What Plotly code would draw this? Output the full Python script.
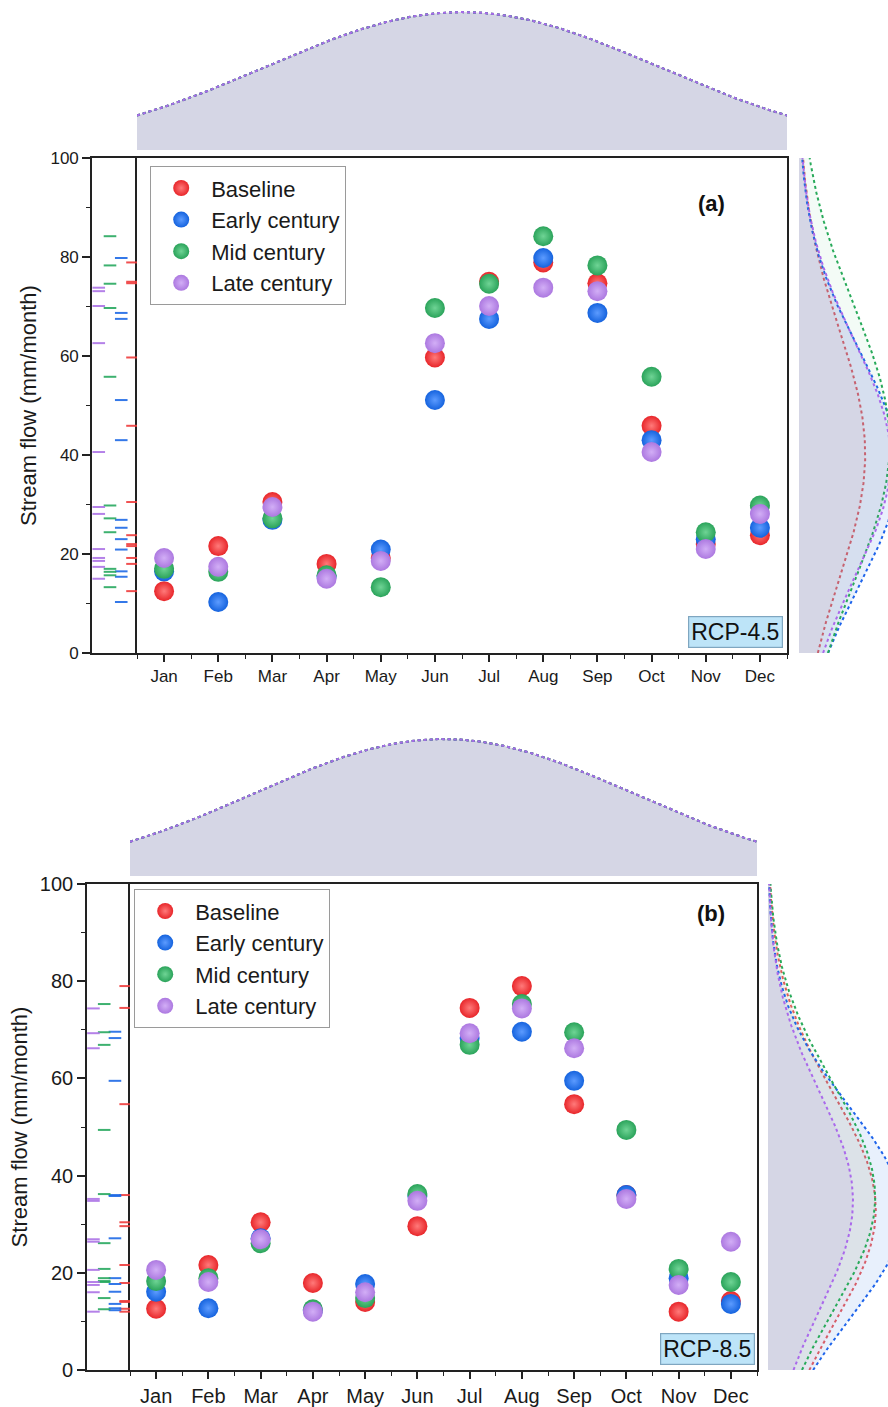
import numpy as np
import plotly.graph_objects as go

# ---------------- data ----------------
months = ["Jan", "Feb", "Mar", "Apr", "May", "Jun", "Jul", "Aug", "Sep", "Oct", "Nov", "Dec"]
month_index = list(range(1, 13))
series_names = ["Baseline", "Early century", "Mid century", "Late century"]

# RCP-4.5 (panel a), stream flow mm/month
rcp45_baseline = [12.5, 21.6, 30.5, 18.0, 19.2, 59.7, 75.0, 78.9, 74.7, 45.9, 22.0, 23.8]
rcp45_early = [16.5, 10.3, 26.9, 15.4, 20.9, 51.1, 67.5, 79.8, 68.7, 43.0, 23.0, 25.3]
rcp45_mid = [17.0, 16.4, 27.2, 15.7, 13.3, 69.7, 74.6, 84.2, 78.3, 55.8, 24.4, 29.8]
rcp45_late = [19.2, 17.4, 29.5, 15.0, 18.6, 62.6, 70.1, 73.8, 73.1, 40.6, 21.0, 28.1]

# RCP-8.5 (panel b)
rcp85_baseline = [12.6, 21.6, 30.4, 17.9, 14.0, 29.6, 74.5, 79.0, 54.7, 36.0, 12.0, 14.2]
rcp85_early = [16.1, 12.7, 27.1, 12.3, 17.7, 35.8, 68.3, 69.6, 59.5, 36.0, 18.9, 13.6]
rcp85_mid = [18.3, 18.9, 26.1, 12.5, 14.8, 36.2, 66.9, 75.3, 69.5, 49.4, 20.8, 18.1]
rcp85_late = [20.6, 18.1, 26.9, 12.0, 16.0, 34.8, 69.3, 74.4, 66.2, 35.2, 17.5, 26.4]

# histogram bin widths used to scale the fitted normal curves on the right margin
rcp45_dist_bin_width = [8.8, 12.4, 13.3, 11.5]
rcp85_dist_bin_width = [13.5, 15.4, 13.2, 10.0]

# column order of the rug strip (left to right)
rug_column_order = ["Late century", "Mid century", "Early century", "Baseline"]

y_tick_values = [0, 20, 40, 60, 80, 100]

# ---------------- styles ----------------
FONT = "Liberation Sans, Arial, Helvetica, sans-serif"
marker_colors = ["#E8262A", "#1563DE", "#2AA35A", "#AC78E0"]
marker_centers = ["#FF7A7A", "#5C9BFF", "#6FD495", "#D2AEF6"]
rug_colors = ["rgba(238,60,60,0.9)", "rgba(30,105,230,0.9)", "rgba(40,168,95,0.9)", "rgba(172,115,230,0.9)"]
line_colors = ["rgb(235,90,90)", "rgb(30,100,235)", "rgb(40,170,90)", "rgb(170,105,235)"]
fill_colors = ["rgba(240,90,90,0.07)", "rgba(50,120,230,0.11)", "rgba(50,180,100,0.06)", "rgba(140,100,200,0.09)"]

W, H = 888, 1407


def fx(x):
    return x / W


def fy(y):
    return 1 - y / H


def akey(n, letter):
    return f"{letter}axis" if n == 1 else f"{letter}axis{n}"


def aref(n, letter):
    return letter if n == 1 else f"{letter}{n}"


panels = [
    dict(series=[rcp45_baseline, rcp45_early, rcp45_mid, rcp45_late], bw=rcp45_dist_bin_width,
         main_x=(137, 787), main_y=(158, 653), rug_x=(92, 137), top_y=(10, 150), right_x=(799, 888),
         legend_xy=(150, 166), legend="legend", tag="(a)", tag_xy=(711, 203), rcp="RCP-4.5",
         rcp_xy=(735, 632), tickfont=17, title_standoff=8, ax0=1),
    dict(series=[rcp85_baseline, rcp85_early, rcp85_mid, rcp85_late], bw=rcp85_dist_bin_width,
         main_x=(130, 757), main_y=(884, 1370), rug_x=(87, 130), top_y=(737, 876), right_x=(768, 888),
         legend_xy=(134, 889), legend="legend2", tag="(b)", tag_xy=(711, 913), rcp="RCP-8.5",
         rcp_xy=(707, 1349), tickfont=20, title_standoff=6, ax0=5),
]

PX_PER_COUNT = 39.8
X_RANGE = [0.5, 12.5]
Y_RANGE = [0, 100]


def normal_pdf(v, mean, sd):
    return np.exp(-0.5 * ((v - mean) / sd) ** 2) / (sd * np.sqrt(2 * np.pi))


fig = go.Figure()
layout = dict(
    template="none",
    width=W, height=H, margin=dict(l=0, r=0, t=0, b=0, pad=0),
    paper_bgcolor="white", plot_bgcolor="rgba(0,0,0,0)",
    font=dict(family=FONT, color="#1a1a1a"),
    annotations=[],
)

for p in panels:
    a_main, a_rug, a_top, a_right = p["ax0"], p["ax0"] + 1, p["ax0"] + 2, p["ax0"] + 3
    mx = [fx(p["main_x"][0]), fx(p["main_x"][1])]
    my = [fy(p["main_y"][1]), fy(p["main_y"][0])]

    # ---- top marginal distribution (months) ----
    xs = np.linspace(X_RANGE[0], X_RANGE[1], 241)
    top_peak = 0
    for i, vals in enumerate(p["series"]):
        m = np.mean(month_index)
        sd = np.std(month_index, ddof=1)
        yv = normal_pdf(xs, m, sd)
        top_peak = max(top_peak, yv.max())
        fig.add_trace(go.Scatter(
            x=xs, y=yv, mode="lines", fill="tozeroy", fillcolor=fill_colors[i],
            line=dict(color=line_colors[i], width=2, dash="dot"),
            xaxis=aref(a_top, "x"), yaxis=aref(a_top, "y"), showlegend=False, hoverinfo="skip"))

    # ---- right marginal distribution (stream flow) ----
    ys = np.linspace(Y_RANGE[0], Y_RANGE[1], 241)
    for i, vals in enumerate(p["series"]):
        v = np.array(vals)
        m = v.mean()
        sd = v.std(ddof=1)
        xv = len(v) * p["bw"][i] * normal_pdf(ys, m, sd)
        fig.add_trace(go.Scatter(
            x=xv, y=ys, mode="lines", fill="tozerox", fillcolor=fill_colors[i],
            line=dict(color=line_colors[i], width=2, dash="dot"),
            xaxis=aref(a_right, "x"), yaxis=aref(a_right, "y"), showlegend=False, hoverinfo="skip"))

    # ---- rug strip ----
    for i, vals in enumerate(p["series"]):
        col = rug_column_order.index(series_names[i])
        fig.add_trace(go.Scatter(
            x=[col] * len(vals), y=vals, mode="markers",
            marker=dict(symbol="line-ew", size=9, line=dict(color=rug_colors[i], width=2)),
            xaxis=aref(a_rug, "x"), yaxis=aref(a_rug, "y"), showlegend=False, hoverinfo="skip"))

    # ---- main scatter ----
    for i, vals in enumerate(p["series"]):
        fig.add_trace(go.Scatter(
            x=month_index, y=vals, mode="markers", name=series_names[i],
            marker=dict(size=20, color=marker_colors[i],
                        gradient=dict(type="radial", color=marker_centers[i]),
                        line=dict(width=0)),
            xaxis=aref(a_main, "x"), yaxis=aref(a_main, "y"), legend=p["legend"]))

    # axes
    base = dict(showline=True, linecolor="#222", linewidth=1.6,
                showgrid=False, zeroline=False, automargin=False)
    layout[akey(a_main, "x")] = dict(
        domain=mx, anchor=aref(a_main, "y"), range=X_RANGE, tickmode="array", mirror=True,
        tickvals=month_index, ticktext=months, ticks="outside", ticklen=7, tickwidth=1.5,
        tickcolor="#222", tickfont=dict(size=p["tickfont"], family=FONT, color="#1a1a1a"),
        minor=dict(tickmode="linear", tick0=0.5, dtick=1, ticks="outside", ticklen=4,
                   tickwidth=1.3, tickcolor="#222"),
        **base)
    layout[akey(a_main, "y")] = dict(
        domain=my, anchor=aref(a_main, "x"), range=Y_RANGE, showticklabels=False, ticks="",
        mirror=True, **base)

    layout[akey(a_rug, "x")] = dict(
        domain=[fx(p["rug_x"][0]), fx(p["rug_x"][1])], anchor=aref(a_rug, "y"),
        range=[-0.6, 3.4], showticklabels=False, ticks="", mirror=True, **base)
    layout[akey(a_rug, "y")] = dict(
        domain=my, anchor=aref(a_rug, "x"), range=Y_RANGE, tickmode="array", mirror=False,
        tickvals=y_tick_values, ticks="outside", ticklen=8, tickwidth=1.5, tickcolor="#222",
        tickfont=dict(size=p["tickfont"], family=FONT, color="#1a1a1a"),
        minor=dict(tickmode="linear", tick0=10, dtick=20, ticks="outside", ticklen=4,
                   tickwidth=1.3, tickcolor="#222"),
        title=dict(text="Stream flow (mm/month)", font=dict(size=22, family=FONT, color="#1a1a1a"),
                   standoff=p["title_standoff"]),
        **base)

    layout[akey(a_top, "x")] = dict(domain=mx, anchor=aref(a_top, "y"), range=X_RANGE,
                                    visible=False, automargin=False)
    layout[akey(a_top, "y")] = dict(domain=[fy(p["top_y"][1]), fy(p["top_y"][0])],
                                    anchor=aref(a_top, "x"), range=[0, top_peak * 1.015],
                                    visible=False, automargin=False)

    layout[akey(a_right, "x")] = dict(
        domain=[fx(p["right_x"][0]), fx(p["right_x"][1])], anchor=aref(a_right, "y"),
        range=[0, (p["right_x"][1] - p["right_x"][0]) / PX_PER_COUNT], visible=False, automargin=False)
    layout[akey(a_right, "y")] = dict(domain=my, anchor=aref(a_right, "x"), range=Y_RANGE,
                                      visible=False, automargin=False)

    layout[p["legend"]] = dict(
        x=fx(p["legend_xy"][0]), y=fy(p["legend_xy"][1]), xanchor="left", yanchor="top",
        bgcolor="white", bordercolor="#9a9a9a", borderwidth=1.2,
        font=dict(size=22, family=FONT, color="#1a1a1a"), itemwidth=50, tracegroupgap=0)

    layout["annotations"].append(dict(
        x=fx(p["tag_xy"][0]), y=fy(p["tag_xy"][1]), xref="paper", yref="paper",
        xanchor="center", yanchor="middle", text="<b>" + p["tag"] + "</b>",
        showarrow=False, font=dict(size=22, family=FONT, color="#111")))
    layout["annotations"].append(dict(
        x=fx(p["rcp_xy"][0]), y=fy(p["rcp_xy"][1]), xref="paper", yref="paper",
        xanchor="center", yanchor="middle", text=p["rcp"],
        showarrow=False, font=dict(size=23, family=FONT, color="#111"),
        bgcolor="#BDE4F8", bordercolor="#7fa6c0", borderwidth=1.2, borderpad=2))

fig.update_layout(**layout)
fig.write_html("out.html", config={"displayModeBar": False},
               post_script="document.body.style.margin='0px';")
